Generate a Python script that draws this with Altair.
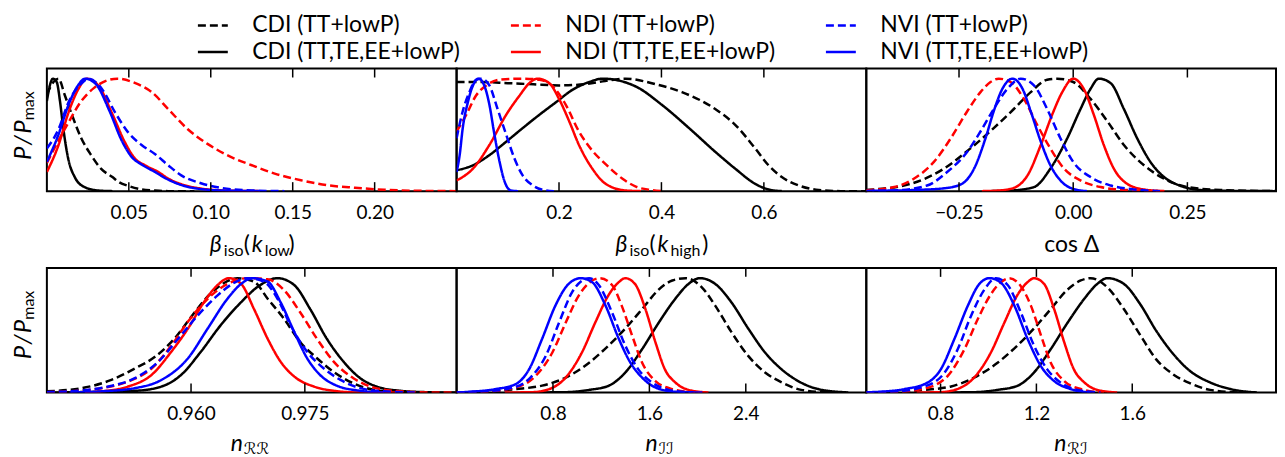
import altair as alt
import pandas as pd

FONT = "Lato, DejaVu Sans, sans-serif"

SERIES = ["CDI (TT+lowP)", "NDI (TT+lowP)", "NVI (TT+lowP)",
          "CDI (TT,TE,EE+lowP)", "NDI (TT,TE,EE+lowP)", "NVI (TT,TE,EE+lowP)"]
COLORS = ["#000000", "#ff0000", "#0000ff", "#000000", "#ff0000", "#0000ff"]
DASHES = [[8, 4], [8, 4], [8, 4], [1, 0], [1, 0], [1, 0]]
DRAW_ORDER = ["CDI (TT+lowP)", "CDI (TT,TE,EE+lowP)", "NDI (TT+lowP)",
              "NDI (TT,TE,EE+lowP)", "NVI (TT+lowP)", "NVI (TT,TE,EE+lowP)"]

# ---- panel 1: beta_iso(k_low)
BETA_LOW = {
    "CDI (TT+lowP)": ([0, 0.004, 0.0071, 0.011, 0.016, 0.021, 0.027, 0.033, 0.040, 0.044, 0.050, 0.058, 0.066, 0.074, 0.09],
                      [0.86, 0.97, 1.0, 0.85, 0.65, 0.47, 0.32, 0.20, 0.125, 0.08, 0.045, 0.015, 0.005, 0.0, 0.0]),
    "CDI (TT,TE,EE+lowP)": ([0, 0.002, 0.0037, 0.006, 0.008, 0.010, 0.013, 0.017, 0.023, 0.031, 0.04],
                            [0.80, 0.95, 1.0, 0.97, 0.80, 0.56, 0.29, 0.125, 0.036, 0.006, 0.0]),
    "NDI (TT+lowP)": ([0, 0.006, 0.012, 0.021, 0.029, 0.036, 0.043, 0.054, 0.064, 0.074, 0.086, 0.098, 0.110, 0.125, 0.139, 0.155, 0.171, 0.188, 0.206, 0.226, 0.25],
                      [0.25, 0.42, 0.58, 0.80, 0.92, 0.98, 1.0, 0.96, 0.88, 0.73, 0.55, 0.42, 0.32, 0.23, 0.156, 0.097, 0.053, 0.03, 0.012, 0.003, 0.0]),
    "NDI (TT,TE,EE+lowP)": ([0, 0.0071, 0.0132, 0.0193, 0.0243, 0.0314, 0.0395, 0.0476, 0.0537, 0.0598, 0.068, 0.074, 0.084, 0.094, 0.11, 0.13],
                            [0.17, 0.41, 0.70, 0.91, 1.0, 0.94, 0.70, 0.435, 0.29, 0.23, 0.17, 0.112, 0.053, 0.023, 0.005, 0.0]),
    "NVI (TT+lowP)": ([0, 0.0071, 0.0132, 0.0213, 0.0253, 0.0335, 0.0416, 0.0497, 0.0578, 0.0659, 0.074, 0.082, 0.094, 0.106, 0.125, 0.145],
                      [0.38, 0.55, 0.79, 0.96, 1.0, 0.91, 0.70, 0.52, 0.41, 0.33, 0.23, 0.14, 0.07, 0.03, 0.006, 0.0]),
    "NVI (TT,TE,EE+lowP)": ([0, 0.007, 0.013, 0.019, 0.0233, 0.030, 0.038, 0.046, 0.052, 0.058, 0.066, 0.073, 0.083, 0.093, 0.11, 0.13],
                            [0.26, 0.50, 0.76, 0.94, 1.0, 0.95, 0.72, 0.44, 0.30, 0.235, 0.17, 0.11, 0.05, 0.02, 0.004, 0.0]),
}

# ---- panel 2: beta_iso(k_high)
BETA_HIGH = {
    "CDI (TT+lowP)": ([0, 0.05, 0.10, 0.15, 0.20, 0.25, 0.29, 0.33, 0.389, 0.44, 0.505, 0.544, 0.583, 0.609, 0.635, 0.668, 0.707, 0.75, 0.8],
                      [0.97, 0.97, 0.96, 0.95, 0.94, 0.95, 0.98, 1.0, 0.95, 0.88, 0.73, 0.59, 0.38, 0.23, 0.125, 0.05, 0.01, 0.0, 0.0]),
    "CDI (TT,TE,EE+lowP)": ([0, 0.032, 0.064, 0.097, 0.129, 0.162, 0.194, 0.226, 0.259, 0.285, 0.35, 0.40, 0.454, 0.505, 0.544, 0.583, 0.609, 0.635],
                            [0.185, 0.23, 0.32, 0.44, 0.56, 0.68, 0.79, 0.90, 0.97, 1.0, 0.93, 0.77, 0.56, 0.35, 0.20, 0.065, 0.015, 0.0]),
    "NDI (TT+lowP)": ([0, 0.019, 0.038, 0.058, 0.084, 0.13, 0.162, 0.188, 0.213, 0.239, 0.265, 0.291, 0.324, 0.35, 0.38, 0.40],
                      [0.53, 0.68, 0.85, 0.94, 0.99, 1.0, 0.99, 0.93, 0.77, 0.53, 0.36, 0.24, 0.11, 0.04, 0.01, 0.0]),
    "NDI (TT,TE,EE+lowP)": ([0, 0.032, 0.064, 0.097, 0.123, 0.142, 0.158, 0.181, 0.20, 0.22, 0.239, 0.265, 0.291, 0.33, 0.36],
                            [0.095, 0.20, 0.41, 0.68, 0.85, 0.96, 1.0, 0.96, 0.82, 0.62, 0.41, 0.20, 0.065, 0.006, 0.0]),
    "NVI (TT+lowP)": ([0, 0.012, 0.025, 0.038, 0.048, 0.064, 0.080, 0.097, 0.113, 0.129, 0.149, 0.175, 0.19],
                      [0.47, 0.71, 0.88, 0.99, 1.0, 0.94, 0.73, 0.50, 0.29, 0.14, 0.05, 0.006, 0.0]),
    "NVI (TT,TE,EE+lowP)": ([0, 0.006, 0.012, 0.022, 0.032, 0.043, 0.054, 0.064, 0.074, 0.084, 0.093, 0.106, 0.12],
                            [0.17, 0.32, 0.56, 0.79, 0.94, 1.0, 0.94, 0.77, 0.50, 0.26, 0.095, 0.006, 0.0]),
}

# ---- panel 3: cos Delta
COS_DELTA = {
    "CDI (TT+lowP)": ([-0.453, -0.356, -0.283, -0.225, -0.174, -0.13, -0.093, -0.057, -0.035, 0.0, 0.038, 0.075, 0.111, 0.155, 0.199, 0.25, 0.323, 0.444],
                      [0.01, 0.065, 0.2, 0.38, 0.56, 0.73, 0.88, 0.99, 1.0, 0.97, 0.82, 0.62, 0.41, 0.23, 0.11, 0.036, 0.01, 0.0]),
    "CDI (TT,TE,EE+lowP)": ([-0.18, -0.137, -0.086, -0.05, -0.013, 0.016, 0.038, 0.056, 0.082, 0.111, 0.14, 0.169, 0.199, 0.235, 0.279, 0.33, 0.444],
                            [0.0, 0.005, 0.036, 0.2, 0.47, 0.73, 0.91, 1.0, 0.96, 0.73, 0.47, 0.26, 0.125, 0.047, 0.01, 0.003, 0.0]),
    "NDI (TT+lowP)": ([-0.453, -0.392, -0.349, -0.305, -0.268, -0.232, -0.203, -0.181, -0.163, -0.137, -0.108, -0.079, -0.05, -0.02, 0.016, 0.06, 0.118, 0.2],
                      [0.008, 0.036, 0.11, 0.26, 0.47, 0.71, 0.88, 0.97, 1.0, 0.97, 0.82, 0.59, 0.38, 0.20, 0.095, 0.036, 0.01, 0.0]),
    "NDI (TT,TE,EE+lowP)": ([-0.2, -0.174, -0.137, -0.1, -0.071, -0.046, -0.024, 0.0, 0.023, 0.045, 0.067, 0.089, 0.118, 0.155, 0.2],
                            [0.0, 0.003, 0.02, 0.14, 0.41, 0.68, 0.88, 1.0, 0.91, 0.68, 0.41, 0.20, 0.065, 0.015, 0.0]),
    "NVI (TT+lowP)": ([-0.453, -0.392, -0.32, -0.276, -0.232, -0.203, -0.174, -0.144, -0.115, -0.086, -0.057, -0.028, 0.0, 0.038, 0.082, 0.133, 0.19],
                      [0.002, 0.006, 0.05, 0.17, 0.35, 0.53, 0.73, 0.91, 1.0, 0.94, 0.73, 0.47, 0.26, 0.125, 0.05, 0.015, 0.0]),
    "NVI (TT,TE,EE+lowP)": ([-0.44, -0.35, -0.283, -0.246, -0.217, -0.192, -0.174, -0.155, -0.133, -0.111, -0.093, -0.071, -0.05, -0.028, 0.0, 0.03],
                            [0.003, 0.01, 0.025, 0.06, 0.2, 0.47, 0.71, 0.91, 1.0, 0.91, 0.71, 0.44, 0.23, 0.095, 0.02, 0.0]),
}

# ---- panel 4: n_RR
N_RR = {
    "CDI (TT+lowP)": ([0.941, 0.946, 0.9495, 0.9526, 0.9552, 0.9578, 0.960, 0.9622, 0.9644, 0.9661, 0.9683, 0.9701, 0.9722, 0.9744, 0.9766, 0.9788, 0.9814, 0.9841, 0.9875, 0.992],
                      [0.01, 0.043, 0.11, 0.21, 0.31, 0.47, 0.66, 0.84, 0.96, 1.0, 0.97, 0.82, 0.65, 0.44, 0.30, 0.18, 0.08, 0.023, 0.003, 0.0]),
    "CDI (TT,TE,EE+lowP)": ([0.941, 0.9526, 0.9561, 0.9587, 0.9613, 0.9639, 0.9666, 0.9687, 0.9714, 0.9736, 0.9757, 0.9779, 0.9801, 0.9823, 0.9849, 0.9876, 0.991, 0.995],
                            [0.0, 0.015, 0.052, 0.154, 0.357, 0.588, 0.79, 0.92, 1.0, 0.94, 0.73, 0.47, 0.27, 0.125, 0.043, 0.015, 0.003, 0.0]),
    "NDI (TT+lowP)": ([0.941, 0.9438, 0.9482, 0.9517, 0.9548, 0.9574, 0.9596, 0.9622, 0.9648, 0.9674, 0.9701, 0.9722, 0.9744, 0.9766, 0.9788, 0.9814, 0.9841, 0.9875, 0.992, 0.995],
                      [0.003, 0.01, 0.038, 0.096, 0.21, 0.41, 0.62, 0.82, 0.95, 1.0, 0.99, 0.9, 0.70, 0.47, 0.27, 0.125, 0.043, 0.01, 0.0, 0.0]),
    "NDI (TT,TE,EE+lowP)": ([0.946, 0.9482, 0.9517, 0.9548, 0.9574, 0.9596, 0.9617, 0.9635, 0.965, 0.9666, 0.9683, 0.9701, 0.9718, 0.9736, 0.9762, 0.9788, 0.9823, 0.987],
                            [0.0, 0.01, 0.052, 0.154, 0.357, 0.56, 0.79, 0.94, 1.0, 0.95, 0.73, 0.47, 0.27, 0.14, 0.052, 0.015, 0.0, 0.0]),
    "NVI (TT+lowP)": ([0.941, 0.9438, 0.9491, 0.9526, 0.9557, 0.9583, 0.9609, 0.9635, 0.9657, 0.9674, 0.9696, 0.9714, 0.9731, 0.9753, 0.9775, 0.9797, 0.9823, 0.9854, 0.9897],
                      [0.003, 0.01, 0.052, 0.125, 0.27, 0.47, 0.675, 0.85, 0.96, 1.0, 0.97, 0.82, 0.59, 0.357, 0.21, 0.11, 0.038, 0.01, 0.0]),
    "NVI (TT,TE,EE+lowP)": ([0.944, 0.9482, 0.9526, 0.9561, 0.9596, 0.9622, 0.9648, 0.9666, 0.9681, 0.9701, 0.9718, 0.9736, 0.9753, 0.977, 0.9792, 0.9823, 0.9854],
                            [0.0, 0.01, 0.038, 0.11, 0.30, 0.56, 0.82, 0.95, 1.0, 0.97, 0.79, 0.53, 0.30, 0.154, 0.06, 0.015, 0.0]),
}

# ---- panel 5: n_II
N_II = {
    "CDI (TT+lowP)": ([0, 0.215, 0.49, 0.71, 0.905, 1.10, 1.26, 1.40, 1.54, 1.677, 1.79, 1.90, 2.035, 2.146, 2.28, 2.42, 2.56, 2.70, 2.86, 3.11],
                      [0.0, 0.006, 0.03, 0.06, 0.13, 0.26, 0.41, 0.56, 0.73, 0.9, 0.98, 1.0, 0.92, 0.76, 0.53, 0.32, 0.175, 0.088, 0.023, 0.0]),
    "CDI (TT,TE,EE+lowP)": ([0.6, 0.905, 1.10, 1.26, 1.40, 1.54, 1.677, 1.815, 1.925, 2.02, 2.146, 2.28, 2.42, 2.56, 2.70, 2.835, 3.0, 3.25],
                            [0.0, 0.003, 0.023, 0.058, 0.175, 0.38, 0.61, 0.82, 0.95, 1.0, 0.95, 0.79, 0.56, 0.35, 0.2, 0.1, 0.03, 0.0]),
    "NDI (TT+lowP)": ([0, 0.215, 0.49, 0.657, 0.795, 0.905, 1.015, 1.10, 1.19, 1.29, 1.37, 1.456, 1.54, 1.65, 1.79, 1.98],
                      [0.0, 0.006, 0.044, 0.146, 0.35, 0.61, 0.85, 0.96, 1.0, 0.94, 0.76, 0.5, 0.26, 0.1, 0.03, 0.0]),
    "NDI (TT,TE,EE+lowP)": ([0.4, 0.63, 0.77, 0.905, 1.04, 1.15, 1.26, 1.346, 1.40, 1.48, 1.567, 1.65, 1.73, 1.815, 1.925, 2.09],
                            [0.0, 0.003, 0.03, 0.13, 0.35, 0.61, 0.85, 0.965, 1.0, 0.95, 0.73, 0.44, 0.2, 0.088, 0.023, 0.0]),
    "NVI (TT+lowP)": ([0, 0.16, 0.436, 0.60, 0.74, 0.85, 0.96, 1.043, 1.10, 1.18, 1.29, 1.40, 1.51, 1.62, 1.76, 1.95],
                      [0.0, 0.006, 0.035, 0.117, 0.32, 0.61, 0.88, 0.98, 1.0, 0.94, 0.70, 0.41, 0.20, 0.088, 0.023, 0.0]),
    "NVI (TT,TE,EE+lowP)": ([0, 0.105, 0.326, 0.49, 0.60, 0.71, 0.82, 0.93, 1.03, 1.125, 1.236, 1.346, 1.443, 1.54, 1.65, 1.815, 2.04],
                            [0.0, 0.006, 0.03, 0.073, 0.2, 0.47, 0.76, 0.95, 1.0, 0.965, 0.76, 0.47, 0.26, 0.13, 0.044, 0.006, 0.0]),
}

# ---- panel 6: n_RI
N_RI = {
    "CDI (TT+lowP)": ([0.49, 0.595, 0.733, 0.844, 0.94, 1.038, 1.12, 1.19, 1.26, 1.33, 1.385, 1.426, 1.496, 1.565, 1.634, 1.70, 1.77, 1.84, 1.925, 2.05],
                      [0.0, 0.002, 0.023, 0.053, 0.13, 0.26, 0.41, 0.56, 0.73, 0.9, 0.98, 1.0, 0.92, 0.73, 0.5, 0.29, 0.16, 0.082, 0.023, 0.0]),
    "CDI (TT,TE,EE+lowP)": ([0.8, 0.94, 1.038, 1.12, 1.19, 1.26, 1.33, 1.40, 1.454, 1.496, 1.565, 1.634, 1.70, 1.77, 1.84, 1.925, 2.01, 2.12],
                            [0.0, 0.003, 0.023, 0.058, 0.175, 0.38, 0.61, 0.82, 0.95, 1.0, 0.95, 0.77, 0.54, 0.34, 0.19, 0.088, 0.03, 0.0]),
    "NDI (TT+lowP)": ([0.49, 0.595, 0.733, 0.83, 0.90, 0.955, 1.01, 1.052, 1.087, 1.135, 1.177, 1.219, 1.26, 1.316, 1.385, 1.482],
                      [0.0, 0.002, 0.035, 0.146, 0.38, 0.64, 0.86, 0.965, 1.0, 0.93, 0.76, 0.5, 0.26, 0.1, 0.03, 0.0]),
    "NDI (TT,TE,EE+lowP)": ([0.7, 0.80, 0.87, 0.94, 1.01, 1.066, 1.12, 1.163, 1.19, 1.232, 1.274, 1.316, 1.357, 1.40, 1.454, 1.537],
                            [0.0, 0.003, 0.03, 0.13, 0.35, 0.61, 0.85, 0.965, 1.0, 0.95, 0.73, 0.44, 0.2, 0.088, 0.023, 0.0]),
    "NVI (TT+lowP)": ([0.49, 0.595, 0.733, 0.817, 0.872, 0.927, 0.983, 1.031, 1.08, 1.135, 1.19, 1.246, 1.30, 1.371, 1.468],
                      [0.0, 0.006, 0.053, 0.175, 0.38, 0.67, 0.9, 1.0, 0.94, 0.70, 0.41, 0.2, 0.088, 0.023, 0.0]),
    "NVI (TT,TE,EE+lowP)": ([0.49, 0.54, 0.65, 0.747, 0.80, 0.858, 0.914, 0.962, 1.004, 1.052, 1.108, 1.163, 1.219, 1.274, 1.343, 1.426],
                            [0.002, 0.006, 0.03, 0.088, 0.2, 0.47, 0.76, 0.95, 1.0, 0.96, 0.76, 0.47, 0.23, 0.1, 0.03, 0.0]),
}

DOMAINS = [[0, 0.25], [0, 0.8], [-0.453, 0.444], [0.941, 0.995], [0, 3.4], [0.49, 2.2]]
TICKS = [[0.05, 0.10, 0.15, 0.20], [0.2, 0.4, 0.6], [-0.25, 0.0, 0.25],
         [0.960, 0.975], [0.8, 1.6, 2.4], [0.8, 1.2, 1.6]]
FORMATS = [".2f", ".1f", ".2f", ".3f", ".1f", ".1f"]

# axis titles: (text, dx from panel centre, dy below panel, size, italic)
TITLES = [
    [("β", -42, 61, 23, True), ("iso", -28, 65, 16, False), ("(", -8, 61, 23, False),
     ("k", 0, 61, 23, True), ("low", 13, 65, 16, False), (")", 37, 61, 23, False)],
    [("β", -46, 61, 23, True), ("iso", -32, 65, 16, False), ("(", -12, 61, 23, False),
     ("k", -4, 61, 23, True), ("high", 9, 65, 16, False), (")", 41, 61, 23, False)],
    [("cos Δ", -27, 61, 23, False)],
    [("n", -21, 59, 23, True), ("ℛℛ", -8, 62, 16, False)],
    [("n", -16, 59, 23, True), ("ℐℐ", -3, 62, 16, False)],
    [("n", -17, 59, 23, True), ("ℛℐ", -4, 62, 16, False)],
]

W = 411
HEIGHTS = [123, 123, 123, 125, 125, 125]
YMAX = 1.09

LEGEND = alt.Legend(orient="none", legendX=155, legendY=-55, columns=3, direction="horizontal",
                    symbolType="M-1.5,0H1.5", symbolSize=400, symbolStrokeWidth=2.5,
                    labelFont=FONT, labelFontSize=23, labelColor="black",
                    labelOffset=28, labelLimit=500, columnPadding=45, rowPadding=3,
                    title=None)

ONE = pd.DataFrame({"a": [0]})


def text_mark(txt, x, y, size, italic, angle=0, align="left"):
    return alt.Chart(ONE).mark_text(
        text=txt, align=align, baseline="alphabetic", fontSize=size,
        fontStyle="italic" if italic else "normal", font=FONT, color="black",
        angle=angle,
    ).encode(x=alt.value(x), y=alt.value(y))


def make_panel(k, curves, ylabel):
    h = HEIGHTS[k]
    rows = []
    for name in DRAW_ORDER:
        xs, ys = curves[name]
        for i, (xv, yv) in enumerate(zip(xs, ys)):
            rows.append({"series": name, "x": xv, "y": yv, "i": i})
    df = pd.DataFrame(rows)
    xscale = alt.Scale(domain=DOMAINS[k], nice=False, zero=False)
    yscale = alt.Scale(domain=[0, YMAX], nice=False)
    xaxis = alt.Axis(values=TICKS[k], format=FORMATS[k], ticks=False, tickSize=0,
                     domain=False, grid=False, labelFont=FONT, labelFontSize=19,
                     labelColor="black", labelPadding=12, title=None,
                     labelFlush=False, labelOverlap=False)
    lines = alt.Chart(df).mark_line(strokeWidth=2.5, clip=True, interpolate="monotone").encode(
        x=alt.X("x:Q", scale=xscale, axis=xaxis),
        y=alt.Y("y:Q", scale=yscale, axis=None),
        color=alt.Color("series:N", scale=alt.Scale(domain=SERIES, range=COLORS), legend=LEGEND),
        strokeDash=alt.StrokeDash("series:N", scale=alt.Scale(domain=SERIES, range=DASHES), legend=LEGEND),
        order=alt.Order("i:Q"),
    )
    tdf = pd.DataFrame({"x": TICKS[k]})
    top = alt.Chart(tdf).mark_rule(color="black", strokeWidth=1.5).encode(
        x=alt.X("x:Q", scale=xscale, axis=xaxis), y=alt.value(0), y2=alt.value(9))
    bot = alt.Chart(tdf).mark_rule(color="black", strokeWidth=1.5).encode(
        x=alt.X("x:Q", scale=xscale, axis=xaxis), y=alt.value(h - 9), y2=alt.value(h))
    layers = [lines, top, bot]
    for (txt, dx, dy, size, it) in TITLES[k]:
        layers.append(text_mark(txt, W / 2 + dx, h + dy, size, it))
    if ylabel:
        layers.append(text_mark("P\u200a/\u200aP", -16, 52, 24, True, angle=270, align="right"))
        layers.append(text_mark("max", -13, 52, 16, False, angle=270, align="left"))
    return alt.layer(*layers).properties(width=W, height=h)


panels = [make_panel(k, c, k in (0, 3)) for k, c in
          enumerate([BETA_LOW, BETA_HIGH, COS_DELTA, N_RR, N_II, N_RI])]

chart = alt.concat(*panels, columns=3, spacing={"row": 77, "column": 0}, bounds="flush").properties(
    padding={"left": 3, "top": 5, "right": 0, "bottom": 0}
).configure_view(stroke="black", strokeWidth=2).resolve_scale(
    x="independent", color="shared", strokeDash="shared")

chart.save("out.html", embed_options={"renderer": "svg", "actions": False})
